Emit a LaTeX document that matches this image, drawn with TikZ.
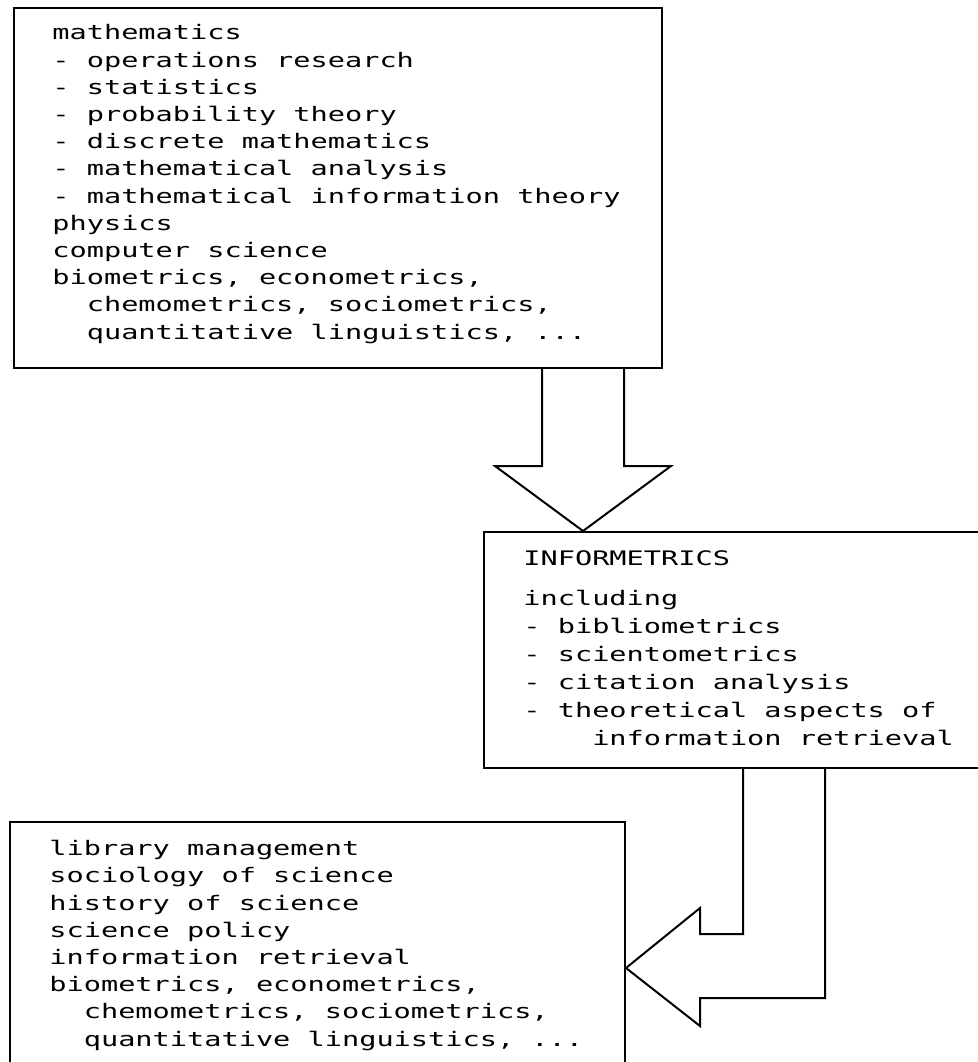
\documentclass[tikz,border=0pt]{standalone}
\usepackage{fontspec}
\newfontfamily\typefont[FakeStretch=1.43]{DejaVu Sans Mono}

\tikzset{
	box/.style={draw, line width=1pt, inner sep=0pt, anchor=north west},
	txt/.style={align=left, anchor=base west, inner sep=0pt, font=\typefont\fontsize{10pt}{13.6pt}\selectfont},
	outline/.style={draw, line width=1pt, line join=miter}
}

\begin{document}
\begin{tikzpicture}[x=.5pt, y=-.5pt]
	\useasboundingbox (0,0) rectangle (978,1062);
	\clip (0,0) rectangle (978,1062);

	% boxes
	\node[box, minimum width=324pt, minimum height=180pt] (math) at (13,7) {};
	\node[box, minimum width=253.5pt, minimum height=118pt] (infor) at (483,531) {};
	\node[box, minimum width=307.5pt, minimum height=127pt] (apps) at (9,821) {};

	% texts, placed at the baseline of their last line
	\node[txt] (mathtxt) at (52,339) {mathematics\\
		- operations research\\
		- statistics\\
		- probability theory\\
		- discrete mathematics\\
		- mathematical analysis\\
		- mathematical information theory\\
		physics\\
		computer science\\
		biometrics, econometrics,\\
		\phantom{xx}chemometrics, sociometrics,\\
		\phantom{xx}quantitative linguistics, ...};

	\node[txt, font=\typefont\fontsize{10pt}{14pt}\selectfont] (infortxt) at (523,745) {INFORMETRICS\\[6pt]
		including\\
		- bibliometrics\\
		- scientometrics\\
		- citation analysis\\
		- theoretical aspects of\\
		\phantom{xxxx}information retrieval};

	\node[txt] (appstxt) at (49,1046) {library management\\
		sociology of science\\
		history of science\\
		science policy\\
		information retrieval\\
		biometrics, econometrics,\\
		\phantom{xx}chemometrics, sociometrics,\\
		\phantom{xx}quantitative linguistics, ...};

	% outline arrows
	\draw[outline] (542,0 |- math.south) -- (542,466) -- (495,466) -- (583,0 |- infor.north)
		-- (671,466) -- (624,466) -- (624,0 |- math.south);
	\draw[outline] (743,0 |- infor.south) -- (743,934) -- (700,934) -- (700,908)
		-- (apps.east |- 0,968) -- (700,1026) -- (700,998) -- (825,998) -- (825,0 |- infor.south);
\end{tikzpicture}
\end{document}
